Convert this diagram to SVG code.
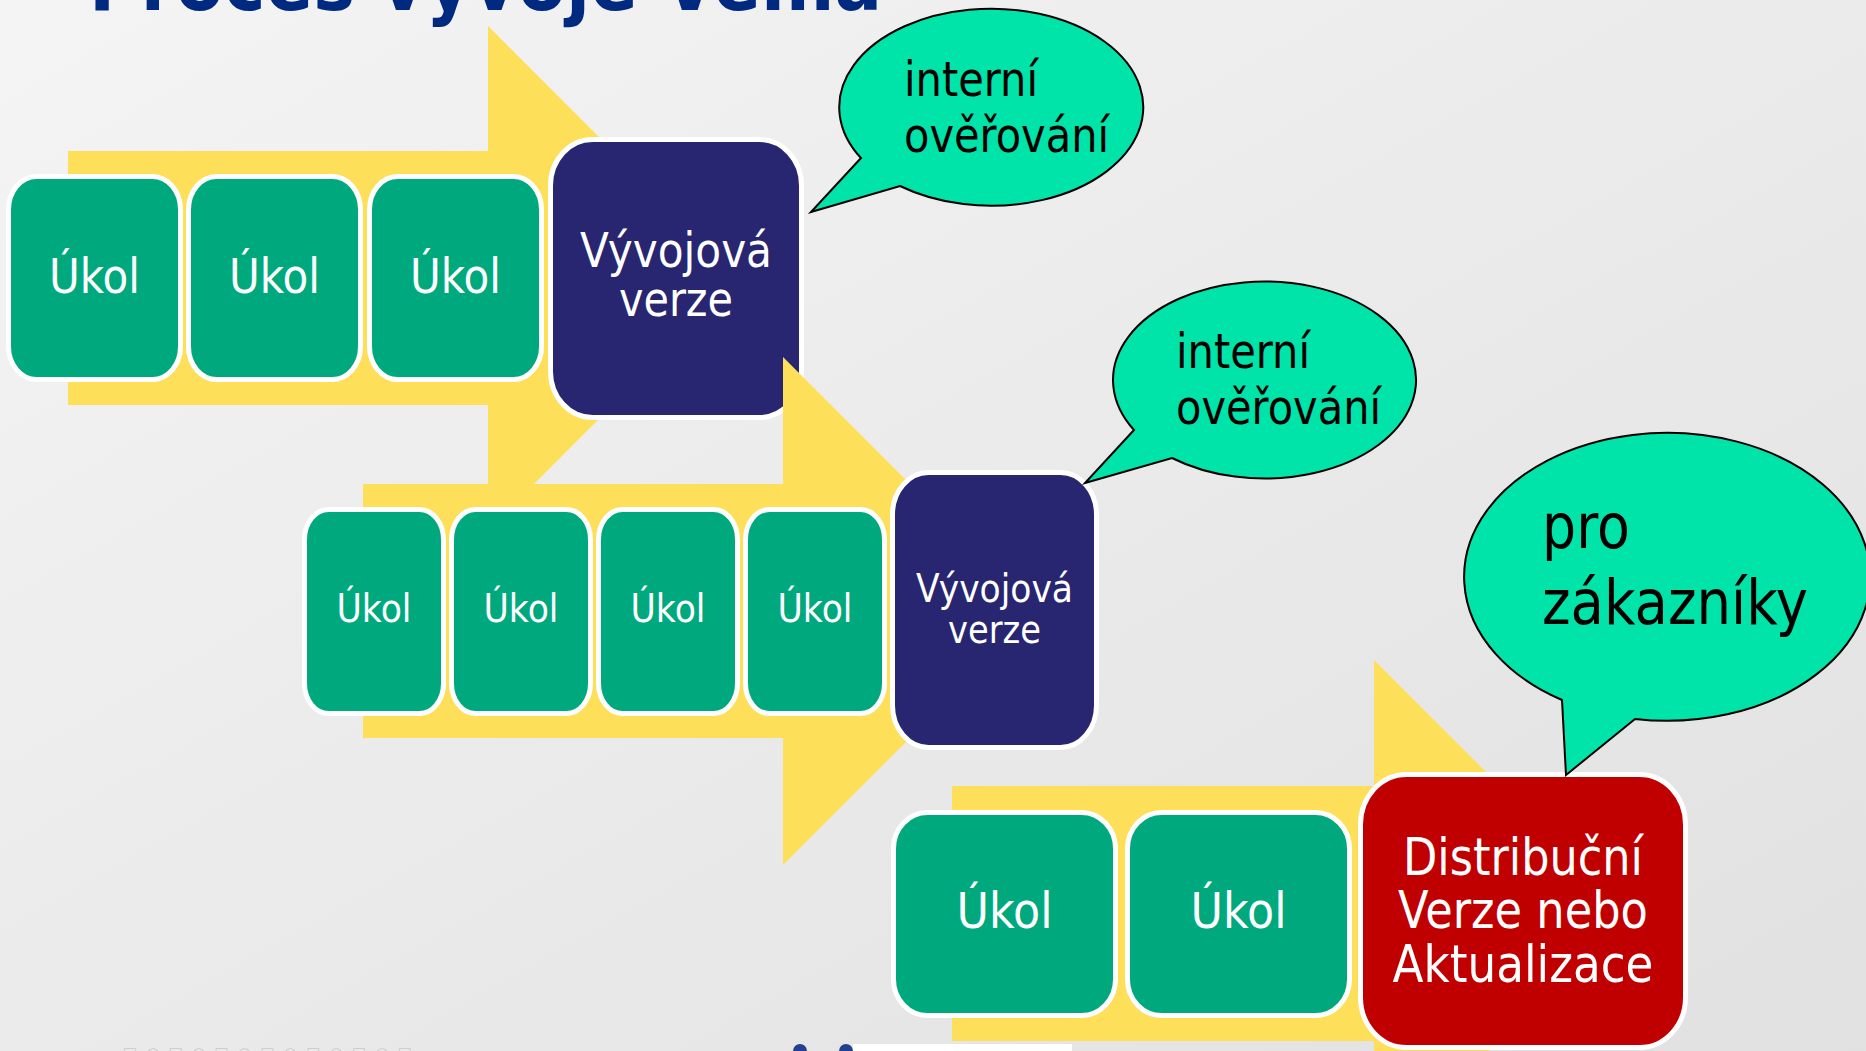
<svg xmlns="http://www.w3.org/2000/svg" width="1866" height="1051" viewBox="0 0 1866 1051">
<defs>
<linearGradient id="bg" x1="0" y1="0" x2="1" y2="1">
<stop offset="0" stop-color="#F4F4F4"/>
<stop offset="1" stop-color="#E1E1E1"/>
</linearGradient>
<style>
.arrow{fill:#FDDF5A;stroke:none}
.task{fill:#00A97D;stroke:#FFFFFF;stroke-width:5}
.dev{fill:#282670;stroke:#FFFFFF;stroke-width:5}
.rel{fill:#C00000;stroke:#FFFFFF;stroke-width:5}
.bubble{fill:#00E3A9;stroke:#000000;stroke-width:2;stroke-linejoin:miter}
.lbl{font-family:"DejaVu Sans","Liberation Sans",sans-serif;fill:#FFFFFF;text-anchor:middle}
.blbl{font-family:"DejaVu Sans","Liberation Sans",sans-serif;fill:#000000}
.title{font-family:"DejaVu Sans","Liberation Sans",sans-serif;font-weight:bold;fill:#002A80}
</style>
</defs>
<rect x="0" y="0" width="1866" height="1051" fill="url(#bg)"/>

<g id="title">
<text class="title" x="89" y="10" font-size="80" textLength="793" lengthAdjust="spacingAndGlyphs">Proces vývoje Vema</text>
</g>

<g id="connectors">
<polygon id="arrow-1" class="arrow" points="68,151 488,151 488,26 740,278 488,530 488,405 68,405"/>
</g>

<g id="row1">
<g id="task-1-1"><rect class="task" x="8.5" y="176.5" width="172" height="203" rx="28" ry="33"/><text class="lbl" x="94.5" y="293" font-size="48" textLength="91" lengthAdjust="spacingAndGlyphs">Úkol</text></g>
<g id="task-1-2"><rect class="task" x="188.5" y="176.5" width="172" height="203" rx="28" ry="33"/><text class="lbl" x="274.5" y="293" font-size="48" textLength="91" lengthAdjust="spacingAndGlyphs">Úkol</text></g>
<g id="task-1-3"><rect class="task" x="369.5" y="176.5" width="172" height="203" rx="28" ry="33"/><text class="lbl" x="455.5" y="293" font-size="48" textLength="91" lengthAdjust="spacingAndGlyphs">Úkol</text></g>
<g id="dev-1"><rect class="dev" x="550.5" y="139.5" width="251" height="278" rx="42" ry="46"/>
<text class="lbl" x="676" y="267" font-size="48" textLength="192" lengthAdjust="spacingAndGlyphs">Vývojová</text>
<text class="lbl" x="676" y="316" font-size="48" textLength="114" lengthAdjust="spacingAndGlyphs">verze</text></g>
</g>

<g id="connectors-2">
<polygon id="arrow-2" class="arrow" points="363,484 783,484 783,357 1037,611 783,865 783,738 363,738"/>
</g>

<g id="row2">
<g id="task-2-1"><rect class="task" x="304.5" y="509.5" width="139" height="204" rx="24" ry="30"/><text class="lbl" x="374" y="622" font-size="39" textLength="75" lengthAdjust="spacingAndGlyphs">Úkol</text></g>
<g id="task-2-2"><rect class="task" x="451.5" y="509.5" width="139" height="204" rx="24" ry="30"/><text class="lbl" x="521" y="622" font-size="39" textLength="75" lengthAdjust="spacingAndGlyphs">Úkol</text></g>
<g id="task-2-3"><rect class="task" x="598.5" y="509.5" width="139" height="204" rx="24" ry="30"/><text class="lbl" x="668" y="622" font-size="39" textLength="75" lengthAdjust="spacingAndGlyphs">Úkol</text></g>
<g id="task-2-4"><rect class="task" x="745.5" y="509.5" width="139" height="204" rx="24" ry="30"/><text class="lbl" x="815" y="622" font-size="39" textLength="75" lengthAdjust="spacingAndGlyphs">Úkol</text></g>
<g id="dev-2"><rect class="dev" x="892.5" y="472.5" width="204" height="275" rx="36" ry="42"/>
<text class="lbl" x="994.5" y="602" font-size="39" textLength="157" lengthAdjust="spacingAndGlyphs">Vývojová</text>
<text class="lbl" x="994.5" y="643" font-size="39" textLength="93" lengthAdjust="spacingAndGlyphs">verze</text></g>
</g>

<g id="connectors-3">
<polygon id="arrow-3" class="arrow" points="952,786 1374,786 1374,660 1627,913 1374,1166 1374,1041 952,1041"/>
</g>

<g id="row3">
<g id="task-3-1"><rect class="task" x="893.5" y="812.5" width="222" height="203" rx="34" ry="36"/><text class="lbl" x="1004.5" y="928" font-size="50" textLength="96" lengthAdjust="spacingAndGlyphs">Úkol</text></g>
<g id="task-3-2"><rect class="task" x="1127.5" y="812.5" width="222" height="203" rx="34" ry="36"/><text class="lbl" x="1238.5" y="928" font-size="50" textLength="96" lengthAdjust="spacingAndGlyphs">Úkol</text></g>
<g id="release"><rect class="rel" x="1360.5" y="774.5" width="325" height="273" rx="46" ry="50"/>
<text class="lbl" x="1523" y="875" font-size="51" textLength="240" lengthAdjust="spacingAndGlyphs">Distribuční</text>
<text class="lbl" x="1523" y="928" font-size="51" textLength="250" lengthAdjust="spacingAndGlyphs">Verze nebo</text>
<text class="lbl" x="1523" y="982" font-size="51" textLength="261" lengthAdjust="spacingAndGlyphs">Aktualizace</text></g>
</g>

<g id="bubble-1">
<path class="bubble" d="M861,158 L811,212 L900,186 A152,98.5 0 1 0 861,158 Z"/>
<text class="blbl" x="904" y="96" font-size="48" textLength="134" lengthAdjust="spacingAndGlyphs">interní</text>
<text class="blbl" x="904" y="152" font-size="48" textLength="205" lengthAdjust="spacingAndGlyphs">ověřování</text>
</g>
<g id="bubble-2">
<path class="bubble" d="M1134,430 L1085,483 L1172,458 A151.5,98.5 0 1 0 1134,430 Z"/>
<text class="blbl" x="1176" y="368" font-size="48" textLength="134" lengthAdjust="spacingAndGlyphs">interní</text>
<text class="blbl" x="1176" y="424" font-size="48" textLength="205" lengthAdjust="spacingAndGlyphs">ověřování</text>
</g>
<g id="bubble-3">
<path class="bubble" d="M1562,700 L1566,775 L1635,719 A203,144 0 1 0 1562,700 Z"/>
<text class="blbl" x="1542" y="548" font-size="63" textLength="88" lengthAdjust="spacingAndGlyphs">pro</text>
<text class="blbl" x="1542" y="624" font-size="63" textLength="266" lengthAdjust="spacingAndGlyphs">zákazníky</text>
</g>

<g id="footer">
<text x="123" y="1058" font-family="DejaVu Sans, sans-serif" font-size="15" fill="#C9C9C9" textLength="289" lengthAdjust="spacing">□○□○□○□○□○□○□</text>
<circle cx="800" cy="1051" r="7" fill="#21408E"/>
<circle cx="846" cy="1051" r="7" fill="#21408E"/>
<rect x="853" y="1044" width="219" height="7" fill="#FFFFFF"/>
</g>
</svg>
